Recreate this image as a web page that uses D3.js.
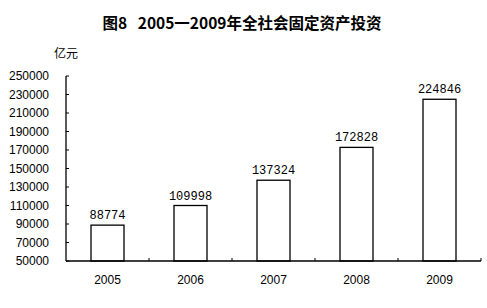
<!DOCTYPE html>
<html>
<head>
<meta charset="utf-8">
<script src="https://cdn.jsdelivr.net/npm/d3@7"></script>
<style>
body { margin:0; background:#fff; }
text { font-family: Arial, "Liberation Sans", "Noto Sans CJK SC", sans-serif; }
</style>
</head>
<body>
<div class="chart"></div>
<script>
// data
var years = ["2005", "2006", "2007", "2008", "2009"];
var values = [88774, 109998, 137324, 172828, 224846];
var yTicks = [50000, 70000, 90000, 110000, 130000, 150000, 170000, 190000, 210000, 230000, 250000];

var svgWidth = 487;
var svgHeight = 308;
var chartMargin = { top: 76, right: 6, bottom: 47, left: 66 };

var width = svgWidth - chartMargin.left - chartMargin.right;
var height = svgHeight - chartMargin.top - chartMargin.bottom;

var svg = d3.select(".chart")
  .append("svg")
  .attr("width", svgWidth)
  .attr("height", svgHeight);

// title
svg.append("text")
  .attr("x", 242)
  .attr("y", 29)
  .attr("text-anchor", "middle")
  .attr("font-size", 15.5)
  .attr("font-weight", "bold")
  .style("white-space", "pre")
  .style("font-family", "'Noto Sans CJK SC', sans-serif")
  .text("图8   2005一2009年全社会固定资产投资");

svg.append("text")
  .attr("x", 54)
  .attr("y", 58)
  .attr("font-size", 12)
  .style("font-family", "'Noto Sans CJK SC', sans-serif")
  .text("亿元");

var chart = svg.append("g")
  .attr("transform", "translate(" + chartMargin.left + "," + chartMargin.top + ")");

var xBand = d3.scaleBand().domain(years).range([0, width]);

var yScale = d3.scaleLinear()
  .domain([50000, 250000])
  .range([height, 0]);

// bars
chart.selectAll("rect.bar")
  .data(values)
  .enter()
  .append("rect")
  .attr("class", "bar")
  .attr("x", function(d, i) { return xBand(years[i]) + xBand.bandwidth() / 2 - 16.5; })
  .attr("width", 33)
  .attr("y", function(d) { return yScale(d); })
  .attr("height", function(d) { return height - yScale(d); })
  .attr("fill", "#fff")
  .attr("stroke", "#000")
  .attr("stroke-width", 1.3);

// value labels
chart.selectAll("text.val")
  .data(values)
  .enter()
  .append("text")
  .attr("class", "val")
  .attr("x", function(d, i) { return xBand(years[i]) + xBand.bandwidth() / 2; })
  .attr("y", function(d) { return yScale(d) - 6; })
  .attr("text-anchor", "middle")
  .attr("font-size", 12)
  .style("font-family", "'Liberation Mono', monospace")
  .text(function(d) { return d; });

// y axis
var leftAxis = d3.axisLeft(yScale)
  .tickValues(yTicks)
  .tickSize(0)
  .tickPadding(17)
  .tickFormat(d3.format("d"));

var yG = chart.append("g").call(leftAxis);
yG.select(".domain").remove();
yG.selectAll("text").attr("font-size", 12).style("font-family", "Arial, 'Liberation Sans', sans-serif");

chart.append("line")
  .attr("x1", 0).attr("x2", 0)
  .attr("y1", 0).attr("y2", height)
  .attr("stroke", "#000").attr("stroke-width", 1.3);

chart.selectAll("line.ytick")
  .data(yTicks)
  .enter()
  .append("line")
  .attr("class", "ytick")
  .attr("x1", 0).attr("x2", 3)
  .attr("y1", function(d) { return yScale(d); })
  .attr("y2", function(d) { return yScale(d); })
  .attr("stroke", "#000");

// x axis
chart.append("line")
  .attr("x1", 0).attr("x2", width)
  .attr("y1", height).attr("y2", height)
  .attr("stroke", "#000").attr("stroke-width", 1.3);

chart.selectAll("line.xtick")
  .data(years)
  .enter()
  .append("line")
  .attr("class", "xtick")
  .attr("x1", function(d) { return xBand(d) + xBand.bandwidth(); })
  .attr("x2", function(d) { return xBand(d) + xBand.bandwidth(); })
  .attr("y1", height).attr("y2", height - 3)
  .attr("stroke", "#000");

chart.selectAll("text.year")
  .data(years)
  .enter()
  .append("text")
  .attr("class", "year")
  .attr("x", function(d) { return xBand(d) + xBand.bandwidth() / 2; })
  .attr("y", height + 23)
  .attr("text-anchor", "middle")
  .attr("font-size", 12)
  .text(function(d) { return d; });
</script>
</body>
</html>
